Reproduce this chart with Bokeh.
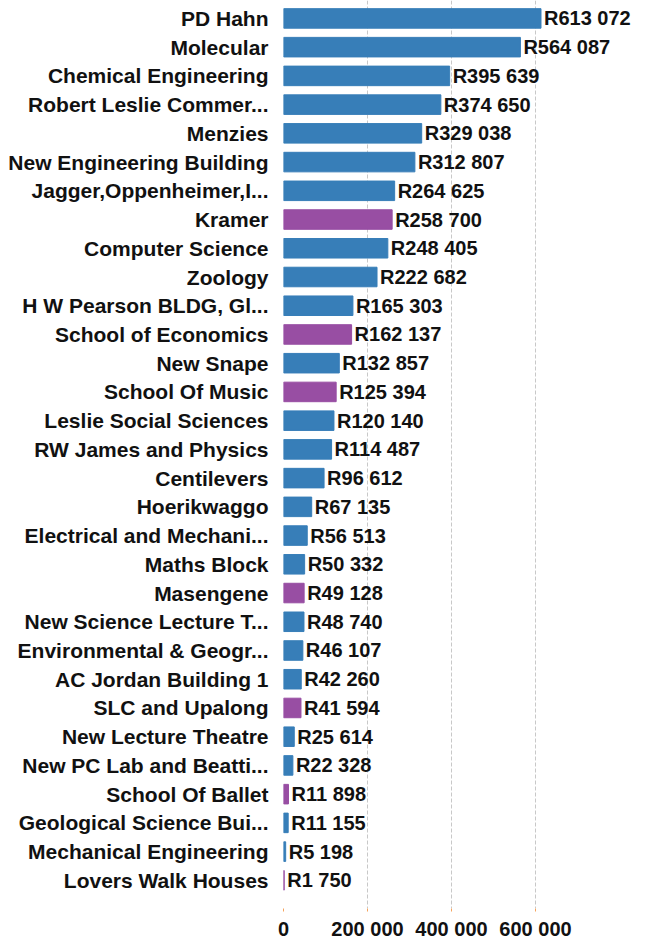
from bokeh.plotting import figure
from bokeh.models import ColumnDataSource, Range1d, FixedTicker, CustomJSTickFormatter
from bokeh.core.properties import value
from bokeh.embed import file_html
from bokeh.resources import INLINE

names = ["PD Hahn", "Molecular", "Chemical Engineering", "Robert Leslie Commer...", "Menzies",
         "New Engineering Building", "Jagger,Oppenheimer,I...", "Kramer", "Computer Science", "Zoology",
         "H W Pearson BLDG, Gl...", "School of Economics", "New Snape", "School Of Music",
         "Leslie Social Sciences", "RW James and Physics", "Centilevers", "Hoerikwaggo",
         "Electrical and Mechani...", "Maths Block", "Masengene", "New Science Lecture T...",
         "Environmental & Geogr...", "AC Jordan Building 1", "SLC and Upalong", "New Lecture Theatre",
         "New PC Lab and Beatti...", "School Of Ballet", "Geological Science Bui...",
         "Mechanical Engineering", "Lovers Walk Houses"]
values = [613072, 564087, 395639, 374650, 329038, 312807, 264625, 258700, 248405, 222682,
          165303, 162137, 132857, 125394, 120140, 114487, 96612, 67135, 56513, 50332,
          49128, 48740, 46107, 42260, 41594, 25614, 22328, 11898, 11155, 5198, 1750]
group = ["a", "a", "a", "a", "a", "a", "a", "b", "a", "a",
         "a", "b", "a", "b", "a", "a", "a", "a", "a", "a",
         "b", "a", "a", "a", "b", "a", "a", "b", "a", "a", "b"]
x_ticks = [0, 200000, 400000, 600000]

palette = {"a": "#377eb8", "b": "#984ea3"}

def fmt(v):
    s = f"{v:,}".replace(",", " ")
    return "R" + s

pos = list(range(len(names)))
src = ColumnDataSource(dict(
    y=pos, v=values, name=names,
    color=[palette[g] for g in group],
    lab=[fmt(v) for v in values],
))

FONT = "Liberation Sans"

p = figure(width=649, height=942, output_backend="svg", toolbar_location=None,
           x_range=Range1d(0, 871429), y_range=Range1d(30.98, -0.624),
           min_border_left=283, min_border_right=0, min_border_top=0, min_border_bottom=32)
p.outline_line_color = None
p.background_fill_color = "white"
p.border_fill_color = "white"

p.hbar(y="y", right="v", left=0, height=0.68, color="color", source=src)
p.text(x="v", y="y", text="lab", x_offset=3, text_baseline="middle", text_align="left",
       text_font=value(FONT), text_font_style="bold", text_font_size="20px",
       text_color="#111111", source=src)

# y axis with category labels
p.yaxis.ticker = FixedTicker(ticks=pos)
p.yaxis.major_label_overrides = {i: n for i, n in enumerate(names)}
p.yaxis.axis_line_color = None
p.yaxis.major_tick_line_color = None
p.yaxis.minor_tick_line_color = None
p.yaxis.major_tick_out = 0
p.yaxis.major_tick_in = 0
p.yaxis.major_label_standoff = 15
p.yaxis.major_label_text_font = FONT
p.yaxis.major_label_text_font_style = "bold"
p.yaxis.major_label_text_font_size = "21px"
p.yaxis.major_label_text_color = "#111111"
p.ygrid.grid_line_color = None

# x axis
p.xaxis.ticker = FixedTicker(ticks=x_ticks)
p.xaxis.formatter = CustomJSTickFormatter(code="""
    return tick.toString().replace(/\\B(?=(\\d{3})+(?!\\d))/g, ' ');
""")
p.xaxis.axis_line_color = None
p.xaxis.major_tick_line_color = "#f5a35c"
p.xaxis.major_tick_out = 3
p.xaxis.major_tick_in = 0
p.xaxis.minor_tick_line_color = None
p.xaxis.major_label_standoff = 6
p.xaxis.major_label_text_font = FONT
p.xaxis.major_label_text_font_style = "bold"
p.xaxis.major_label_text_font_size = "20px"
p.xaxis.major_label_text_color = "#111111"
p.xgrid.grid_line_color = "#c8c8c8"
p.xgrid.grid_line_dash = "4 2"
p.xgrid.grid_line_width = 1

open("out.html", "w").write(file_html(p, INLINE))
